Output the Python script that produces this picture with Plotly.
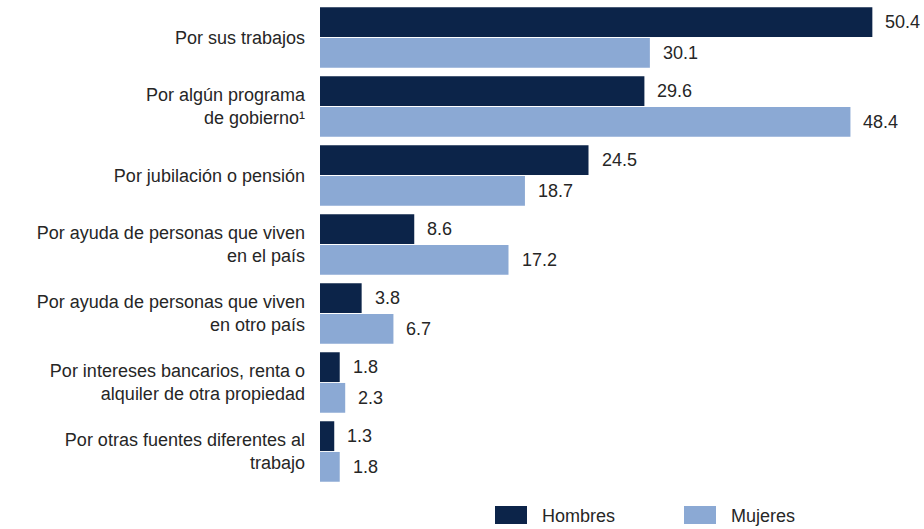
import plotly.graph_objects as go

# Fuentes de ingreso por sexo (porcentaje)
categorias = [
    "Por sus trabajos",
    "Por algún programa<br>de gobierno¹",
    "Por jubilación o pensión",
    "Por ayuda de personas que viven<br>en el país",
    "Por ayuda de personas que viven<br>en otro país",
    "Por intereses bancarios, renta o<br>alquiler de otra propiedad",
    "Por otras fuentes diferentes al<br>trabajo",
]
hombres = [50.4, 29.6, 24.5, 8.6, 3.8, 1.8, 1.3]
mujeres = [30.1, 48.4, 18.7, 17.2, 6.7, 2.3, 1.8]
series = ["Hombres", "Mujeres"]

COLOR_H = "#0c2449"
COLOR_M = "#8ba9d4"
TEXT = "#262626"
FONT = "Liberation Sans, Arial, sans-serif"
FS = 18

W, H = 924, 529
ML, MR, MT, MB = 320, 10, 3, 43
PW, PH = W - ML - MR, H - MT - MB

fig = go.Figure()
fig.add_trace(go.Bar(y=categorias, x=hombres, name=series[0], orientation="h",
                     marker=dict(color=COLOR_H, line=dict(width=0))))
fig.add_trace(go.Bar(y=categorias, x=mujeres, name=series[1], orientation="h",
                     marker=dict(color=COLOR_M, line=dict(width=0))))

# Value labels to the right of each bar
row_px = PH / len(categorias)
bar_gap = 0.11
half_bar = row_px * (1 - bar_gap) / 4
for vals, shift in ((hombres, half_bar), (mujeres, -half_bar)):
    for cat, v in zip(categorias, vals):
        fig.add_annotation(x=v, y=cat, text=f"{v:.1f}", showarrow=False,
                           xanchor="left", yanchor="middle", xshift=11, yshift=shift,
                           font=dict(family=FONT, size=FS, color=TEXT))

# Legend drawn below the plot
def px_x(p):
    return (p - ML) / PW

def px_y(p):
    return (H - MB - p) / PH

for name, color, x0 in ((series[0], COLOR_H, 495), (series[1], COLOR_M, 684)):
    fig.add_shape(type="rect", xref="paper", yref="paper",
                  x0=px_x(x0), x1=px_x(x0 + 32), y0=px_y(524), y1=px_y(506),
                  fillcolor=color, line=dict(width=0))
    fig.add_annotation(xref="paper", yref="paper", x=px_x(x0 + 45), y=px_y(516),
                       text=name, showarrow=False, xanchor="left", yanchor="middle",
                       font=dict(family=FONT, size=FS, color=TEXT))

fig.update_layout(
    width=W, height=H,
    margin=dict(l=ML, r=MR, t=MT, b=MB, pad=0),
    barmode="group", bargap=bar_gap, bargroupgap=0.03,
    showlegend=False,
    plot_bgcolor="white", paper_bgcolor="white",
    font=dict(family=FONT, size=FS, color=TEXT),
)
fig.update_xaxes(range=[0, 54.2], visible=False, showgrid=False, zeroline=False)
fig.update_yaxes(autorange="reversed", showgrid=False, zeroline=False, showline=False,
                 ticks="", ticklabelstandoff=14,
                 tickfont=dict(family=FONT, size=FS, color=TEXT))

fig.write_html("out.html")
